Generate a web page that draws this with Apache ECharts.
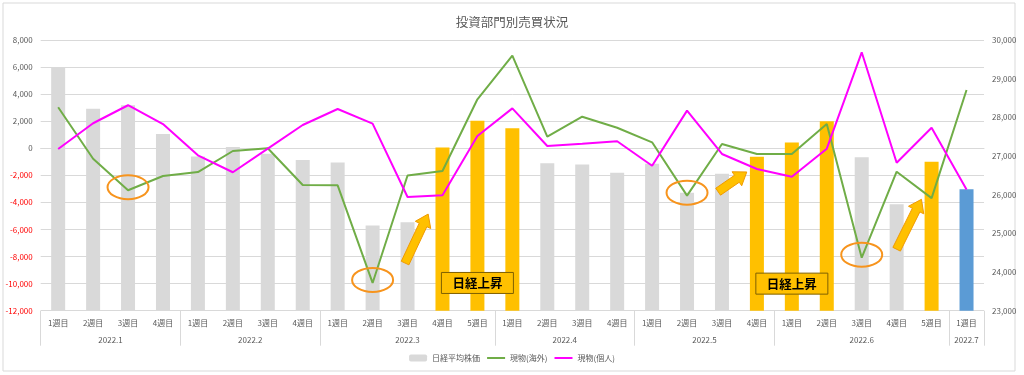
<!DOCTYPE html>
<html>
<head>
<meta charset="utf-8">
<script src="https://cdn.jsdelivr.net/npm/echarts@6/dist/echarts.min.js"></script>
<style>
html,body{margin:0;padding:0;background:#fff;}
#chart{width:1024px;height:375px;}
</style>
</head>
<body>
<div id="chart"></div>
<script>
// ---- data ----
const months = ['2022.1','2022.2','2022.3','2022.4','2022.5','2022.6','2022.7'];
const weeksPerMonth = [4,4,5,4,4,5,1];
const nikkei = [29300,28220,28310,27570,26990,27230,27060,26900,26830,25200,25290,27220,27910,27720,26810,26780,26570,26800,26050,26540,26980,27350,27900,26970,25750,26850,26140];
const foreign = [3030,-770,-3100,-2050,-1760,-200,0,-2710,-2740,-9950,-2010,-1680,3620,6840,860,2330,1520,440,-3500,320,-420,-420,1790,-8080,-1730,-3680,4310];
const individual = [-50,1850,3180,1790,-520,-1770,-30,1720,2900,1820,-3600,-3470,910,2950,170,340,520,-1290,2780,-420,-1530,-2100,-30,7090,-1070,1520,-3040];
const risingWeeks = [11,12,13,20,21,22,25];
const latestWeek = 26;
const leftTicks = {min:-12000, max:8000, interval:2000};
const rightTicks = {min:23000, max:30000, interval:1000};
// annotations: [category index, left-axis value]
const circledWeeks = [2,9,18,23];
const arrows = [[[9.93,-8480],[10.59,-4860]],[[18.89,-3210],[19.71,-1750]],[[24.0,-7460],[24.71,-3770]]];
const boxes = [[12,-9950,'日経上昇'],[21,-10000,'日経上昇']];

// ---- derived ----
const weekLabels = [];
const boundaries = [0];
const mids = [];
let acc = 0;
weeksPerMonth.forEach((n,k)=>{
  for(let w=1; w<=n; w++) weekLabels.push(w + '週目');
  mids.push(acc + n/2);
  acc += n;
  boundaries.push(acc);
});
const midLabel = {};
mids.forEach((m,k)=>{ midLabel[m.toFixed(2)] = months[k]; });

const FONT = "'Noto Sans CJK JP', 'Noto Sans', sans-serif";
const GRAY = '#595959';
const LINEC = '#d9d9d9';

const barData = nikkei.map((v,i)=>{
  let c = '#d9d9d9';
  if (risingWeeks.includes(i)) c = '#ffc000';
  if (i === latestWeek) c = '#5b9bd5';
  return {value: v, itemStyle: {color: c}};
});

const chart = echarts.init(document.getElementById('chart'), null, {renderer:'canvas'});
chart.setOption({
  animation: false,
  textStyle: {fontFamily: FONT},
  title: {
    text: '投資部門別売買状況', left: 'center', top: 11,
    textStyle: {fontSize: 12.5, fontWeight: 'normal', color: GRAY, fontFamily: FONT}
  },
  legend: {
    bottom: 8, left: 'center', itemWidth: 18, itemHeight: 7, itemGap: 6,
    textStyle: {fontSize: 8, color: GRAY, fontFamily: FONT},
    data: [
      {name: '日経平均株価'},
      {name: '現物(海外)', itemStyle: {opacity: 0}},
      {name: '現物(個人)', itemStyle: {opacity: 0}}
    ]
  },
  grid: {left: 40.7, right: 40, top: 40, bottom: 64.3},
  xAxis: [
    {
      type: 'category', data: weekLabels, position: 'bottom',
      axisLine: {lineStyle: {color: LINEC}},
      axisTick: {show: false},
      axisLabel: {interval: 0, fontSize: 8, color: GRAY, margin: 8, fontFamily: FONT}
    },
    {
      type: 'value', min: 0, max: acc, position: 'bottom',
      axisLine: {show: false}, splitLine: {show: false},
      axisTick: {show: true, customValues: boundaries, length: 35, lineStyle: {color: LINEC}},
      axisLabel: {
        customValues: mids, fontSize: 8, color: GRAY, margin: 25, fontFamily: FONT,
        formatter: (v)=> midLabel[Number(v).toFixed(2)] || ''
      }
    }
  ],
  yAxis: [
    {
      type: 'value', min: leftTicks.min, max: leftTicks.max, interval: leftTicks.interval,
      axisLine: {show: false}, axisTick: {show: false},
      splitLine: {lineStyle: {color: LINEC}},
      axisLabel: {
        fontSize: 8, margin: 8, fontFamily: FONT,
        color: (v)=> Number(v) < 0 ? '#ff0000' : GRAY,
        formatter: (v)=> Number(v).toLocaleString('en-US')
      }
    },
    {
      type: 'value', min: rightTicks.min, max: rightTicks.max, interval: rightTicks.interval,
      axisLine: {show: false}, axisTick: {show: false}, splitLine: {show: false},
      axisLabel: {fontSize: 8, margin: 8, color: GRAY, fontFamily: FONT,
        formatter: (v)=> Number(v).toLocaleString('en-US')}
    }
  ],
  series: [
    {
      name: '日経平均株価', type: 'bar', xAxisIndex: 0, yAxisIndex: 1,
      barWidth: 14, itemStyle: {color: '#d9d9d9'}, data: barData, clip: true, z: 1
    },
    {
      name: '現物(海外)', type: 'line', xAxisIndex: 0, yAxisIndex: 0,
      symbol: 'none', lineStyle: {color: '#70ad47', width: 2}, itemStyle: {color: '#70ad47'},
      data: foreign, z: 3
    },
    {
      name: '現物(個人)', type: 'line', xAxisIndex: 0, yAxisIndex: 0,
      symbol: 'none', lineStyle: {color: '#ff00ff', width: 2}, itemStyle: {color: '#ff00ff'},
      data: individual, z: 4
    }
  ]
});

// ---- annotations anchored to the axes ----
function toPx(ci, v){
  const p0 = chart.convertToPixel({xAxisIndex:0, yAxisIndex:0}, [0, v]);
  const p1 = chart.convertToPixel({xAxisIndex:0, yAxisIndex:0}, [1, v]);
  const step = p1[0] - p0[0];
  return [p0[0] + step*ci, p0[1]];
}
function arrowPoints(T, P){
  const dx = P[0]-T[0], dy = P[1]-T[1];
  const len = Math.hypot(dx,dy);
  const ux = dx/len, uy = dy/len;
  const nx = -uy, ny = ux;
  const sw = 4.2, hw = 8.5, hl = 12;
  const H = [P[0]-ux*hl, P[1]-uy*hl];
  return [
    [T[0]+nx*sw, T[1]+ny*sw],
    [H[0]+nx*sw, H[1]+ny*sw],
    [H[0]+nx*hw, H[1]+ny*hw],
    [P[0], P[1]],
    [H[0]-nx*hw, H[1]-ny*hw],
    [H[0]-nx*sw, H[1]-ny*sw],
    [T[0]-nx*sw, T[1]-ny*sw]
  ];
}
const g = [];
g.push({type:'rect', shape:{x:3, y:3, width:1012, height:368}, style:{fill:'none', stroke:'#d9d9d9', lineWidth:1}, z:0, silent:true});
circledWeeks.forEach(i=>{
  const p = toPx(i, foreign[i]);
  g.push({type:'ellipse', shape:{cx:p[0], cy:p[1]-3, rx:20.5, ry:12}, style:{fill:'none', stroke:'#f7941d', lineWidth:2}, z:100});
});
arrows.forEach(a=>{
  const T = toPx(a[0][0], a[0][1]);
  const P = toPx(a[1][0], a[1][1]);
  g.push({type:'polygon', shape:{points: arrowPoints(T,P)}, style:{fill:'#ffc000', stroke:'#f09a00', lineWidth:1}, z:100});
});
boxes.forEach(b=>{
  const p = toPx(b[0], b[1]);
  g.push({type:'rect', shape:{x:p[0]-36, y:p[1]-10.5, width:72, height:21}, style:{fill:'#ffc000', stroke:'#7f6000', lineWidth:1}, z:100});
  g.push({type:'text', x:p[0], y:p[1]+0.5, style:{text:b[2], fill:'#000', font:"bold 12.5px 'Noto Sans CJK JP'", align:'center', verticalAlign:'middle'}, z:101});
});
chart.setOption({graphic: g});
</script>
</body>
</html>
